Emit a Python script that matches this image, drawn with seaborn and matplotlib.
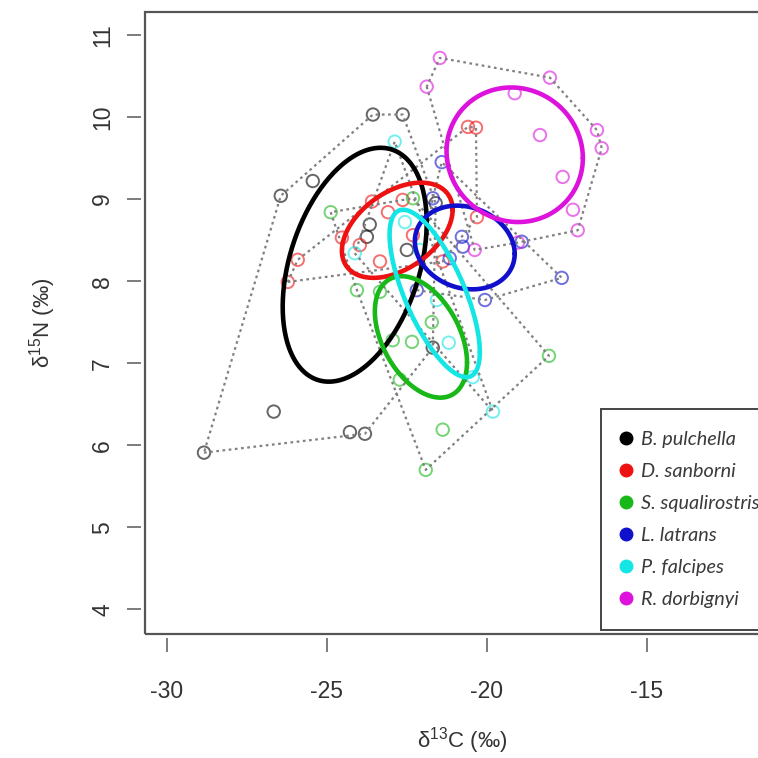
import numpy as np
import pandas as pd
import matplotlib
matplotlib.use("Agg")
import matplotlib.pyplot as plt
from matplotlib.lines import Line2D
from matplotlib.patches import Rectangle
import seaborn as sns

# species and colours (R style palette)
species = ["B. pulchella", "D. sanborni", "S. squalirostris", "L. latrans", "P. falcipes", "R. dorbignyi"]
colours = ["#000000", "#ee1111", "#19b819", "#1010cc", "#14e6e6", "#dd12dd"]

# d13C / d15N values
c_pulchella = [-28.84, -26.66, -24.28, -23.81, -26.44, -25.44, -23.56, -22.63, -23.66, -23.75, -21.6, -21.69, -22.50]
n_pulchella = [5.91, 6.41, 6.16, 6.14, 9.04, 9.22, 10.03, 10.03, 8.69, 8.54, 8.95, 7.19, 8.38]

c_sanborni = [-25.91, -26.22, -24.53, -23.59, -23.09, -22.63, -23.34, -21.38, -20.59, -20.34, -20.31, -22.31, -23.97]
n_sanborni = [8.26, 7.99, 8.53, 8.97, 8.84, 8.99, 8.24, 8.24, 9.88, 9.87, 8.78, 8.56, 8.44]

c_squali = [-18.06, -21.91, -21.38, -21.72, -22.94, -22.34, -24.06, -23.34, -24.88, -22.31, -22.72]
n_squali = [7.09, 5.70, 6.19, 7.50, 7.28, 7.26, 7.89, 7.87, 8.84, 9.01, 6.80]

c_latrans = [-18.91, -17.66, -20.06, -20.78, -20.75, -21.41, -21.69, -22.19, -21.16]
n_latrans = [8.48, 8.04, 7.77, 8.54, 8.42, 9.45, 9.01, 7.89, 8.28]

c_falcipes = [-22.88, -24.13, -19.81, -21.19, -20.44, -22.09, -21.56, -22.56]
n_falcipes = [9.70, 8.34, 6.41, 7.25, 6.83, 8.38, 7.77, 8.72]

c_dorbignyi = [-21.47, -21.88, -18.03, -16.56, -16.41, -19.13, -18.34, -17.63, -17.31, -17.16, -20.38, -19.03]
n_dorbignyi = [10.72, 10.37, 10.48, 9.84, 9.62, 10.29, 9.78, 9.27, 8.87, 8.62, 8.38, 8.47]

# standard ellipses: centre x, centre y, sd x, sd y, correlation
ell_cx = [-24.13, -22.80, -22.06, -20.69, -21.63, -19.13]
ell_cy = [8.20, 8.62, 7.32, 8.41, 7.85, 9.54]
ell_sx = [2.25, 1.73, 1.44, 1.56, 1.41, 2.13]
ell_sy = [1.425, 0.58, 0.74, 0.51, 1.02, 0.82]
ell_r = [0.36, 0.43, -0.42, -0.15, -0.7, -0.05]

xticks = [-30, -25, -20, -15]
yticks = [4, 5, 6, 7, 8, 9, 10, 11]

all_c = [c_pulchella, c_sanborni, c_squali, c_latrans, c_falcipes, c_dorbignyi]
all_n = [n_pulchella, n_sanborni, n_squali, n_latrans, n_falcipes, n_dorbignyi]

df = pd.concat([pd.DataFrame({"d13C": c, "d15N": n, "Species": sp})
                for c, n, sp in zip(all_c, all_n, species)], ignore_index=True)


def convex_hull(xs, ys):
    pts = sorted(set(zip(xs, ys)))
    def cross(o, a, b):
        return (a[0] - o[0]) * (b[1] - o[1]) - (a[1] - o[1]) * (b[0] - o[0])
    lower, upper = [], []
    for p in pts:
        while len(lower) >= 2 and cross(lower[-2], lower[-1], p) <= 0:
            lower.pop()
        lower.append(p)
    for p in reversed(pts):
        while len(upper) >= 2 and cross(upper[-2], upper[-1], p) <= 0:
            upper.pop()
        upper.append(p)
    hull = lower[:-1] + upper[:-1]
    hull.append(hull[0])
    return np.array(hull)


sns.set_style("white")
plt.rcParams["font.family"] = ["Liberation Sans", "DejaVu Sans"]
plt.rcParams["mathtext.fontset"] = "custom"
plt.rcParams["mathtext.rm"] = "Liberation Sans"

fig = plt.figure(figsize=(7.58, 7.58), dpi=100)
ax = fig.add_axes([0.191, 0.1636, 0.838, 0.8206])

# points
sns.scatterplot(data=df, x="d13C", y="d15N", hue="Species", palette=colours,
                s=80, linewidth=1.4, alpha=0.6, legend=False, ax=ax)
pts = ax.collections[0]
pts.set_edgecolors(pts.get_facecolors())
pts.set_facecolors("none")

# convex hulls
for c, n in zip(all_c, all_n):
    h = convex_hull(c, n)
    ax.plot(h[:, 0], h[:, 1], color="#808080", lw=1.6, ls=(0, (1.2, 1.6)), zorder=3)

# standard ellipses
t = np.linspace(0, 2 * np.pi, 300)
for i, col in enumerate(colours):
    ex = ell_cx[i] + ell_sx[i] * np.cos(t)
    ey = ell_cy[i] + ell_sy[i] * (ell_r[i] * np.cos(t) + np.sqrt(1 - ell_r[i] ** 2) * np.sin(t))
    ax.plot(ex, ey, color=col, lw=3.3, zorder=4)

ax.set_xlim(-30.69, -10.84)
ax.set_ylim(3.70, 11.28)
ax.set_xticks(xticks)
ax.set_yticks(yticks)
ax.set_xticklabels([str(v) for v in xticks])
ax.set_yticklabels([str(v) for v in yticks])

for side in ["left", "bottom"]:
    ax.spines[side].set_position(("outward", 3))
    ax.spines[side].set_color("none")
for side in ["top", "right"]:
    ax.spines[side].set_visible(False)
ax.add_patch(Rectangle((0, 0), 1, 1, transform=ax.transAxes, fill=False,
                       ec="#555555", lw=1.6, clip_on=False, zorder=5))

ax.tick_params(axis="both", direction="out", length=10, width=1.2, color="#666666",
               labelsize=16.5, labelcolor="#333333", bottom=True, left=True)
ax.tick_params(axis="x", pad=20)
ax.tick_params(axis="y", pad=9)
for lab in ax.get_yticklabels():
    lab.set_rotation(90)
    lab.set_va("center")

ax.set_xlabel("δ$^{13}$C (‰)", fontsize=16, color="#333333", labelpad=16)
ax.set_ylabel("δ$^{15}$N (‰)", fontsize=16, color="#333333", labelpad=24)

# legend box runs off the right edge of the figure, as in the original
handles = [Line2D([0], [0], marker="o", ls="none", markersize=9, color=c) for c in colours]
leg = ax.legend(handles, species, loc="upper left", mode="expand",
                bbox_to_anchor=(601 / 758, 126 / 758, 210 / 758, 223 / 758),
                bbox_transform=fig.transFigure, borderaxespad=0, frameon=True, fancybox=False,
                prop={"family": "Lato", "style": "italic", "size": 14.3},
                labelcolor="#3a3a3a", handlelength=0.3, handletextpad=0.6,
                labelspacing=0.76, borderpad=1.1)
leg.get_frame().set_edgecolor("#444444")
leg.get_frame().set_linewidth(1.4)
leg.get_frame().set_alpha(1)

fig.savefig("out.png", dpi=100)
